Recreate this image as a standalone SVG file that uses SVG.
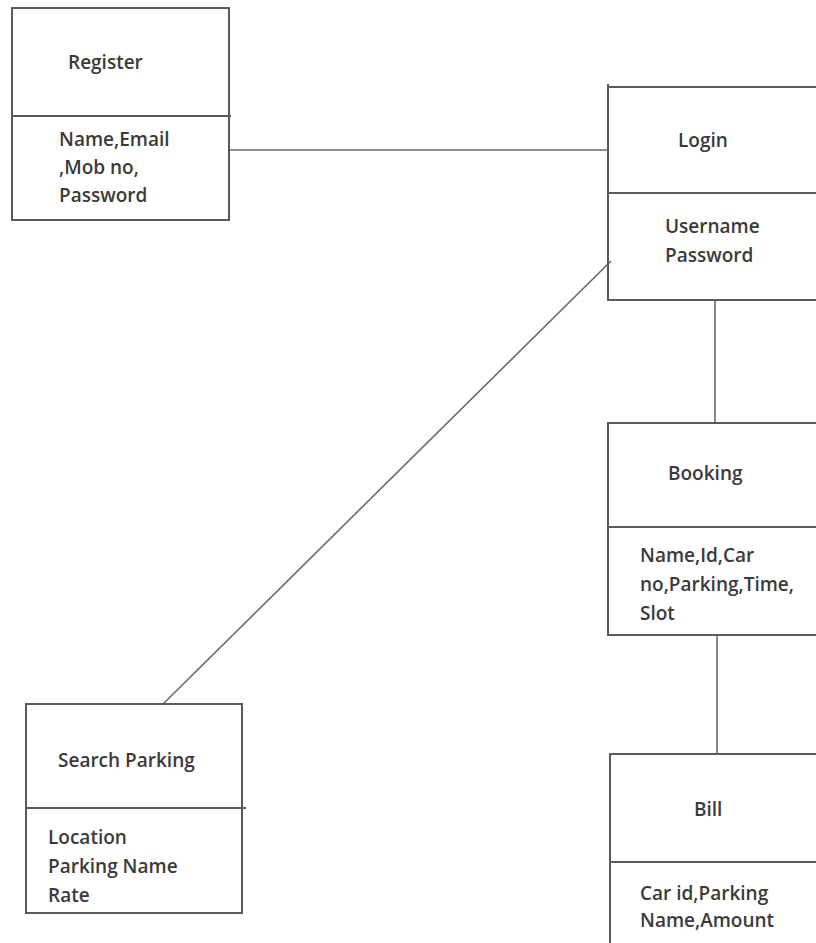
<svg xmlns="http://www.w3.org/2000/svg" width="816" height="943" viewBox="0 0 816 943">
<style>
.box{fill:none;stroke:#5a5a5a;stroke-width:2}
.ln{stroke:#5a5a5a;stroke-width:2;fill:none}
.conn{stroke:#6a6a6a;stroke-width:1.6;fill:none}
text{font-family:"Open Sans","Liberation Sans",sans-serif;font-size:19px;font-weight:600;fill:#3a3a3a}
</style>
<rect width="816" height="943" fill="#fff"/>
<g id="connectors">
<line class="conn" x1="229" y1="150" x2="608" y2="150"/>
<line class="conn" x1="715" y1="300" x2="715" y2="423"/>
<line class="conn" x1="717" y1="635" x2="717" y2="755"/>
<line class="conn" x1="163" y1="704" x2="611" y2="261"/>
</g>
<g id="register">
<rect class="box" x="12" y="8" width="217" height="212"/>
<line class="ln" x1="12" y1="116" x2="231" y2="116"/>
<text x="68" y="69">Register</text>
<text x="59" y="146">Name,Email</text>
<text x="59" y="174">,Mob no,</text>
<text x="59" y="202">Password</text>
</g>
<g id="login">
<path class="box" d="M816 87H608V300H816"/>
<line class="ln" x1="608" y1="84" x2="608" y2="87"/>
<line class="ln" x1="608" y1="193" x2="816" y2="193"/>
<text x="678" y="147">Login</text>
<text x="665" y="233">Username</text>
<text x="665" y="262">Password</text>
</g>
<g id="booking">
<path class="box" d="M816 423H608V635H816"/>
<line class="ln" x1="608" y1="527" x2="816" y2="527"/>
<text x="668" y="480">Booking</text>
<text x="640" y="562">Name,Id,Car</text>
<text x="640" y="591">no,Parking,Time,</text>
<text x="640" y="620">Slot</text>
</g>
<g id="bill">
<path class="box" d="M816 754H610V943"/>
<line class="ln" x1="610" y1="862" x2="816" y2="862"/>
<text x="694" y="816">Bill</text>
<text x="640" y="900">Car id,Parking</text>
<text x="640" y="927">Name,Amount</text>
</g>
<g id="search-parking">
<rect class="box" x="26" y="704" width="216" height="209"/>
<line class="ln" x1="26" y1="808" x2="246" y2="808"/>
<text x="58" y="767">Search Parking</text>
<text x="48" y="844">Location</text>
<text x="48" y="873">Parking Name</text>
<text x="48" y="902">Rate</text>
</g>
</svg>
